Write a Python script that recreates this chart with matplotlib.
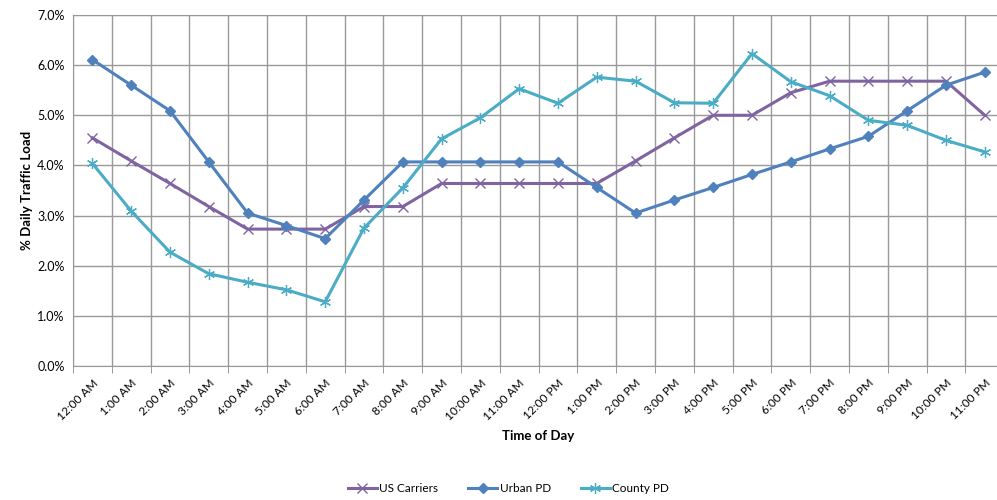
import numpy as np
import matplotlib
matplotlib.use("Agg")
import matplotlib.pyplot as plt
from matplotlib.ticker import FuncFormatter, MultipleLocator

plt.rcParams['font.family'] = ['Lato', 'DejaVu Sans']

# Hour of day labels
hours = ['12:00 AM', '1:00 AM', '2:00 AM', '3:00 AM', '4:00 AM', '5:00 AM',
         '6:00 AM', '7:00 AM', '8:00 AM', '9:00 AM', '10:00 AM', '11:00 AM',
         '12:00 PM', '1:00 PM', '2:00 PM', '3:00 PM', '4:00 PM', '5:00 PM',
         '6:00 PM', '7:00 PM', '8:00 PM', '9:00 PM', '10:00 PM', '11:00 PM']

# % of daily traffic load per hour
us_carriers = [4.55, 4.09, 3.64, 3.18, 2.73, 2.73, 2.73, 3.18, 3.18, 3.64, 3.64, 3.64,
               3.64, 3.64, 4.09, 4.55, 5.00, 5.00, 5.45, 5.68, 5.68, 5.68, 5.68, 5.00]
urban_pd = [6.11, 5.60, 5.09, 4.07, 3.05, 2.80, 2.54, 3.31, 4.07, 4.07, 4.07, 4.07,
            4.07, 3.56, 3.05, 3.31, 3.56, 3.82, 4.07, 4.33, 4.58, 5.09, 5.60, 5.86]
county_pd = [4.04, 3.09, 2.27, 1.84, 1.67, 1.52, 1.28, 2.75, 3.55, 4.53, 4.95, 5.53,
             5.24, 5.76, 5.68, 5.25, 5.24, 6.23, 5.67, 5.39, 4.90, 4.80, 4.50, 4.27]

series_names = ['US Carriers', 'Urban PD', 'County PD']
colors = ['#8064A2', '#4F81BD', '#4BACC6']

fig = plt.figure(figsize=(9.97, 5.0), dpi=100)
ax = fig.add_axes([0.0732, 0.268, 0.934, 0.702])

x = np.arange(len(hours))
ax.plot(x, us_carriers, color=colors[0], lw=2.2, marker='x', ms=7, mew=1.0,
        label=series_names[0])
ax.plot(x, urban_pd, color=colors[1], lw=2.2, marker='D', ms=5,
        label=series_names[1])
ax.plot(x, county_pd, color=colors[2], lw=2.2, marker=(6, 2, 0), ms=8, mew=0.9,
        label=series_names[2])

ax.set_xlim(-0.5, len(hours) - 0.5)
ax.set_ylim(0, 7)
ax.yaxis.set_major_locator(MultipleLocator(1))
ax.yaxis.set_major_formatter(FuncFormatter(lambda v, p: f"{v:.1f}%"))

ax.set_xticks(x)
ax.set_xticklabels(hours, rotation=45, ha='right', rotation_mode='anchor', fontsize=8.5)
ax.set_xticks(np.arange(-0.5, len(hours)), minor=True)
ax.tick_params(axis='x', which='major', length=0, pad=8)
ax.tick_params(axis='x', which='minor', length=5, color='#888888')
ax.tick_params(axis='y', length=0, labelsize=9, pad=6)

ax.grid(True, which='minor', axis='x', color='#999999', lw=1)
ax.grid(True, which='major', axis='y', color='#999999', lw=1)
ax.set_axisbelow(True)
for s in ax.spines.values():
    s.set_color('#999999')

ax.set_xlabel('Time of Day', fontsize=9.5, fontweight='bold', labelpad=6)
ax.set_ylabel('% Daily Traffic Load', fontsize=9.5, fontweight='bold', labelpad=3)

fig.legend(loc='center', bbox_to_anchor=(0.51, 0.023), ncol=3, frameon=False,
           fontsize=8.5, handlelength=2.5, columnspacing=2.5, handletextpad=0.2)

fig.savefig('out.png', dpi=100)
